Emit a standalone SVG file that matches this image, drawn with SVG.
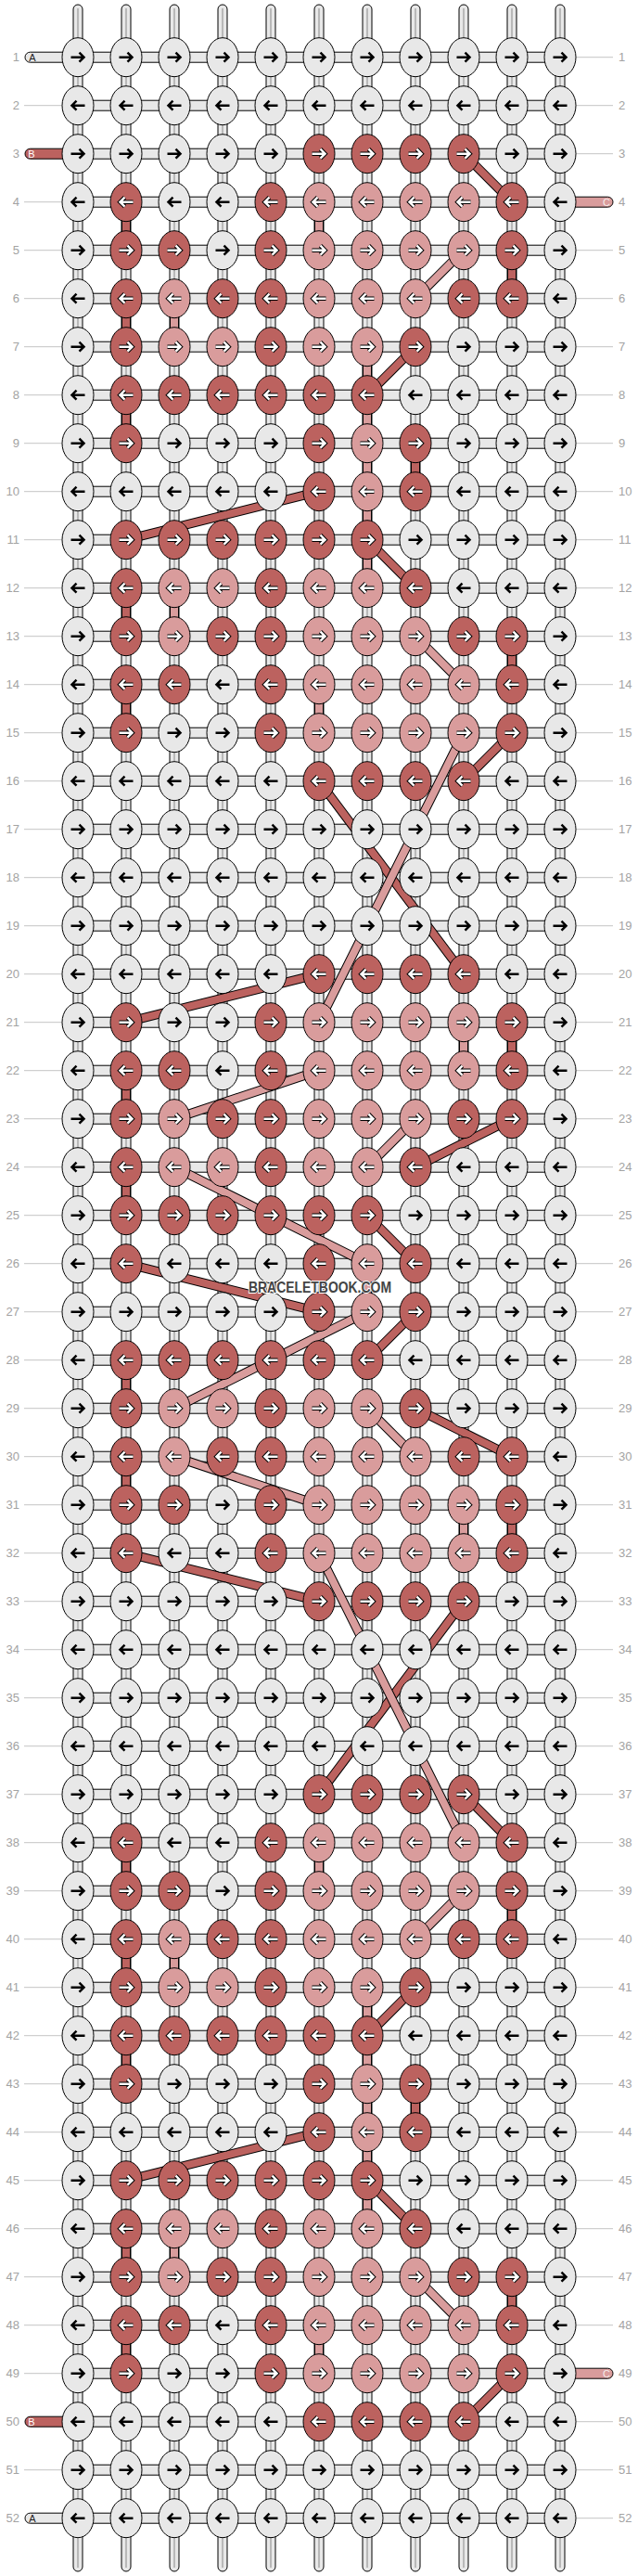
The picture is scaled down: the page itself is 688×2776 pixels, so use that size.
<svg xmlns="http://www.w3.org/2000/svg" xmlns:xlink="http://www.w3.org/1999/xlink" width="688" height="2776" viewBox="0 0 688 2776">
<style>
.vs{fill:#e8e8e8;stroke:#000;stroke-width:1}
.vm{stroke:#888;stroke-width:1}
.hs{fill:#e8e8e8;stroke:#000;stroke-width:1}
.tk{stroke:#c4c4c4;stroke-width:1}
.num{font-family:"Liberation Sans",Arial,sans-serif;font-size:13px;fill:#a3a3a3}
.lt{font-family:"Liberation Sans",Arial,sans-serif;font-size:11px;text-anchor:middle}
.ol{fill:none;stroke:#000;stroke-width:10}
.cr{fill:none;stroke:#bc625f;stroke-width:8}
.cp{fill:none;stroke:#d99c9c;stroke-width:8}
.wm{font-family:"Liberation Sans",Arial,sans-serif;font-weight:bold;font-size:17px;fill:#444;stroke:#fff;stroke-width:2;paint-order:stroke;text-anchor:middle}
</style>
<defs>
<g id="st"><rect class="vs" x="-5" y="5" width="10" height="2766" rx="5"/><line class="vm" x1="0" y1="9" x2="0" y2="2767"/></g>
<rect id="hc" class="hs" x="84" y="-5.5" width="520" height="11"/>
<path id="ar" d="M-7.5,0H6M1.5,-5L6.5,0L1.5,5" fill="none" stroke-linejoin="miter"/>
<path id="al" d="M7.5,0H-6M-1.5,-5L-6.5,0L-1.5,5" fill="none" stroke-linejoin="miter"/>
<g id="wR"><ellipse rx="17" ry="21" fill="#e8e8e8" stroke="#000"/><use href="#ar" stroke="#000" stroke-width="2.5"/></g>
<g id="wL"><ellipse rx="17" ry="21" fill="#e8e8e8" stroke="#000"/><use href="#al" stroke="#000" stroke-width="2.5"/></g>
<g id="rR"><ellipse rx="17" ry="21" fill="#bc625f" stroke="#000"/><use href="#ar" stroke="#000" stroke-width="4.5"/><use href="#ar" stroke="#fff" stroke-width="2.5"/></g>
<g id="rL"><ellipse rx="17" ry="21" fill="#bc625f" stroke="#000"/><use href="#al" stroke="#000" stroke-width="4.5"/><use href="#al" stroke="#fff" stroke-width="2.5"/></g>
<g id="pR"><ellipse rx="17" ry="21" fill="#d99c9c" stroke="#000"/><use href="#ar" stroke="#000" stroke-width="4.5"/><use href="#ar" stroke="#fff" stroke-width="2.5"/></g>
<g id="pL"><ellipse rx="17" ry="21" fill="#d99c9c" stroke="#000"/><use href="#al" stroke="#000" stroke-width="4.5"/><use href="#al" stroke="#fff" stroke-width="2.5"/></g>
</defs>
<rect width="688" height="2776" fill="#fff"/>
<g id="strands">
<use href="#st" x="84"/><use href="#st" x="136"/><use href="#st" x="188"/><use href="#st" x="240"/><use href="#st" x="292"/><use href="#st" x="344"/><use href="#st" x="396"/><use href="#st" x="448"/><use href="#st" x="500"/><use href="#st" x="552"/><use href="#st" x="604"/>
</g>
<g id="rowlinks">
<use href="#hc" y="61.7"/><use href="#hc" y="113.7"/><use href="#hc" y="165.7"/><use href="#hc" y="217.7"/><use href="#hc" y="269.7"/><use href="#hc" y="321.7"/><use href="#hc" y="373.7"/><use href="#hc" y="425.7"/><use href="#hc" y="477.7"/><use href="#hc" y="529.7"/><use href="#hc" y="581.7"/><use href="#hc" y="633.7"/><use href="#hc" y="685.7"/><use href="#hc" y="737.7"/><use href="#hc" y="789.7"/><use href="#hc" y="841.7"/><use href="#hc" y="893.7"/><use href="#hc" y="945.7"/><use href="#hc" y="997.7"/><use href="#hc" y="1049.7"/><use href="#hc" y="1101.7"/><use href="#hc" y="1153.7"/><use href="#hc" y="1205.7"/><use href="#hc" y="1257.7"/><use href="#hc" y="1309.7"/><use href="#hc" y="1361.7"/><use href="#hc" y="1413.7"/><use href="#hc" y="1465.7"/><use href="#hc" y="1517.7"/><use href="#hc" y="1569.7"/><use href="#hc" y="1621.7"/><use href="#hc" y="1673.7"/><use href="#hc" y="1725.7"/><use href="#hc" y="1777.7"/><use href="#hc" y="1829.7"/><use href="#hc" y="1881.7"/><use href="#hc" y="1933.7"/><use href="#hc" y="1985.7"/><use href="#hc" y="2037.7"/><use href="#hc" y="2089.7"/><use href="#hc" y="2141.7"/><use href="#hc" y="2193.7"/><use href="#hc" y="2245.7"/><use href="#hc" y="2297.7"/><use href="#hc" y="2349.7"/><use href="#hc" y="2401.7"/><use href="#hc" y="2453.7"/><use href="#hc" y="2505.7"/><use href="#hc" y="2557.7"/><use href="#hc" y="2609.7"/><use href="#hc" y="2661.7"/><use href="#hc" y="2713.7"/>
</g>
<g id="ends">
<rect x="27" y="56.2" width="50" height="11" rx="5.5" fill="#e8e8e8" stroke="#000"/><text class="lt" x="35" y="65.7" fill="#222">A</text>
<rect x="27" y="160.2" width="50" height="11" rx="5.5" fill="#bc625f" stroke="#000"/><text class="lt" x="34" y="169.7" fill="#fff">B</text>
<rect x="27" y="2604.2" width="50" height="11" rx="5.5" fill="#bc625f" stroke="#000"/><text class="lt" x="34" y="2613.7" fill="#fff">B</text>
<rect x="27" y="2708.2" width="50" height="11" rx="5.5" fill="#e8e8e8" stroke="#000"/><text class="lt" x="35" y="2717.7" fill="#222">A</text>
<rect x="611" y="212.2" width="50" height="11" rx="5.5" fill="#d99c9c" stroke="#000"/><text class="lt" x="654" y="221.7" fill="#f6ecec">C</text>
<rect x="611" y="2552.2" width="50" height="11" rx="5.5" fill="#d99c9c" stroke="#000"/><text class="lt" x="654" y="2561.7" fill="#f6ecec">C</text>
<path class="tk" d="M26 113.7H67M26 217.7H67M26 269.7H67M26 321.7H67M26 373.7H67M26 425.7H67M26 477.7H67M26 529.7H67M26 581.7H67M26 633.7H67M26 685.7H67M26 737.7H67M26 789.7H67M26 841.7H67M26 893.7H67M26 945.7H67M26 997.7H67M26 1049.7H67M26 1101.7H67M26 1153.7H67M26 1205.7H67M26 1257.7H67M26 1309.7H67M26 1361.7H67M26 1413.7H67M26 1465.7H67M26 1517.7H67M26 1569.7H67M26 1621.7H67M26 1673.7H67M26 1725.7H67M26 1777.7H67M26 1829.7H67M26 1881.7H67M26 1933.7H67M26 1985.7H67M26 2037.7H67M26 2089.7H67M26 2141.7H67M26 2193.7H67M26 2245.7H67M26 2297.7H67M26 2349.7H67M26 2401.7H67M26 2453.7H67M26 2505.7H67M26 2557.7H67M26 2661.7H67"/>
<path class="tk" d="M621 61.7H661M621 113.7H661M621 165.7H661M621 269.7H661M621 321.7H661M621 373.7H661M621 425.7H661M621 477.7H661M621 529.7H661M621 581.7H661M621 633.7H661M621 685.7H661M621 737.7H661M621 789.7H661M621 841.7H661M621 893.7H661M621 945.7H661M621 997.7H661M621 1049.7H661M621 1101.7H661M621 1153.7H661M621 1205.7H661M621 1257.7H661M621 1309.7H661M621 1361.7H661M621 1413.7H661M621 1465.7H661M621 1517.7H661M621 1569.7H661M621 1621.7H661M621 1673.7H661M621 1725.7H661M621 1777.7H661M621 1829.7H661M621 1881.7H661M621 1933.7H661M621 1985.7H661M621 2037.7H661M621 2089.7H661M621 2141.7H661M621 2193.7H661M621 2245.7H661M621 2297.7H661M621 2349.7H661M621 2401.7H661M621 2453.7H661M621 2505.7H661M621 2609.7H661M621 2661.7H661M621 2713.7H661"/>
</g>
<g id="connectors">
<path class="ol" d="M500 165.7L552 217.7M136 217.7V269.7M552 269.7V321.7M136 321.7V373.7M448 373.7L396 425.7M136 425.7V477.7M448 477.7V529.7M344 529.7L136 581.7M396 581.7L448 633.7M136 633.7V685.7M552 685.7V737.7M136 737.7V789.7M552 789.7L500 841.7M344 841.7L500 1049.7M344 1049.7L136 1101.7M552 1101.7V1153.7M136 1153.7V1205.7M552 1205.7L448 1257.7M136 1257.7V1309.7M396 1309.7L448 1361.7M136 1361.7L344 1413.7M448 1413.7L396 1465.7M136 1465.7V1517.7M448 1517.7L552 1569.7M136 1569.7V1621.7M552 1621.7V1673.7M136 1673.7L344 1725.7M500 1725.7L344 1933.7M500 1933.7L552 1985.7M136 1985.7V2037.7M552 2037.7V2089.7M136 2089.7V2141.7M448 2141.7L396 2193.7M136 2193.7V2245.7M448 2245.7V2297.7M344 2297.7L136 2349.7M396 2349.7L448 2401.7M136 2401.7V2453.7M552 2453.7V2505.7M136 2505.7V2557.7M552 2557.7L500 2609.7"/>
<path class="cr" d="M500 165.7L552 217.7M136 217.7V269.7M552 269.7V321.7M136 321.7V373.7M448 373.7L396 425.7M136 425.7V477.7M448 477.7V529.7M344 529.7L136 581.7M396 581.7L448 633.7M136 633.7V685.7M552 685.7V737.7M136 737.7V789.7M552 789.7L500 841.7M344 841.7L500 1049.7M344 1049.7L136 1101.7M552 1101.7V1153.7M136 1153.7V1205.7M552 1205.7L448 1257.7M136 1257.7V1309.7M396 1309.7L448 1361.7M136 1361.7L344 1413.7M448 1413.7L396 1465.7M136 1465.7V1517.7M448 1517.7L552 1569.7M136 1569.7V1621.7M552 1621.7V1673.7M136 1673.7L344 1725.7M500 1725.7L344 1933.7M500 1933.7L552 1985.7M136 1985.7V2037.7M552 2037.7V2089.7M136 2089.7V2141.7M448 2141.7L396 2193.7M136 2193.7V2245.7M448 2245.7V2297.7M344 2297.7L136 2349.7M396 2349.7L448 2401.7M136 2401.7V2453.7M552 2453.7V2505.7M136 2505.7V2557.7M552 2557.7L500 2609.7"/>
<path class="ol" d="M344 217.7V269.7M500 269.7L448 321.7M188 321.7V373.7M396 373.7V633.7M188 633.7V685.7M448 685.7L500 737.7M344 737.7V789.7M500 789.7L344 1101.7M500 1101.7V1153.7M344 1153.7L188 1205.7M448 1205.7L396 1257.7M188 1257.7L396 1361.7M396 1361.7V1413.7M396 1413.7L188 1517.7M396 1517.7L448 1569.7M188 1569.7L344 1621.7M500 1621.7V1673.7M344 1673.7L500 1985.7M344 1985.7V2037.7M500 2037.7L448 2089.7M188 2089.7V2141.7M396 2141.7V2401.7M188 2401.7V2453.7M448 2453.7L500 2505.7M344 2505.7V2557.7"/>
<path class="cp" d="M344 217.7V269.7M500 269.7L448 321.7M188 321.7V373.7M396 373.7V633.7M188 633.7V685.7M448 685.7L500 737.7M344 737.7V789.7M500 789.7L344 1101.7M500 1101.7V1153.7M344 1153.7L188 1205.7M448 1205.7L396 1257.7M188 1257.7L396 1361.7M396 1361.7V1413.7M396 1413.7L188 1517.7M396 1517.7L448 1569.7M188 1569.7L344 1621.7M500 1621.7V1673.7M344 1673.7L500 1985.7M344 1985.7V2037.7M500 2037.7L448 2089.7M188 2089.7V2141.7M396 2141.7V2401.7M188 2401.7V2453.7M448 2453.7L500 2505.7M344 2505.7V2557.7"/>
</g>
<g id="knots">
<g id="row1" transform="translate(0,61.7)"><g id="k1-1"><use href="#wR" x="84"/></g><g id="k1-2"><use href="#wR" x="136"/></g><g id="k1-3"><use href="#wR" x="188"/></g><g id="k1-4"><use href="#wR" x="240"/></g><g id="k1-5"><use href="#wR" x="292"/></g><g id="k1-6"><use href="#wR" x="344"/></g><g id="k1-7"><use href="#wR" x="396"/></g><g id="k1-8"><use href="#wR" x="448"/></g><g id="k1-9"><use href="#wR" x="500"/></g><g id="k1-10"><use href="#wR" x="552"/></g><g id="k1-11"><use href="#wR" x="604"/></g></g>
<g id="row2" transform="translate(0,113.7)"><g id="k2-1"><use href="#wL" x="84"/></g><g id="k2-2"><use href="#wL" x="136"/></g><g id="k2-3"><use href="#wL" x="188"/></g><g id="k2-4"><use href="#wL" x="240"/></g><g id="k2-5"><use href="#wL" x="292"/></g><g id="k2-6"><use href="#wL" x="344"/></g><g id="k2-7"><use href="#wL" x="396"/></g><g id="k2-8"><use href="#wL" x="448"/></g><g id="k2-9"><use href="#wL" x="500"/></g><g id="k2-10"><use href="#wL" x="552"/></g><g id="k2-11"><use href="#wL" x="604"/></g></g>
<g id="row3" transform="translate(0,165.7)"><g id="k3-1"><use href="#wR" x="84"/></g><g id="k3-2"><use href="#wR" x="136"/></g><g id="k3-3"><use href="#wR" x="188"/></g><g id="k3-4"><use href="#wR" x="240"/></g><g id="k3-5"><use href="#wR" x="292"/></g><g id="k3-6"><use href="#rR" x="344"/></g><g id="k3-7"><use href="#rR" x="396"/></g><g id="k3-8"><use href="#rR" x="448"/></g><g id="k3-9"><use href="#rR" x="500"/></g><g id="k3-10"><use href="#wR" x="552"/></g><g id="k3-11"><use href="#wR" x="604"/></g></g>
<g id="row4" transform="translate(0,217.7)"><g id="k4-1"><use href="#wL" x="84"/></g><g id="k4-2"><use href="#rL" x="136"/></g><g id="k4-3"><use href="#wL" x="188"/></g><g id="k4-4"><use href="#wL" x="240"/></g><g id="k4-5"><use href="#rL" x="292"/></g><g id="k4-6"><use href="#pL" x="344"/></g><g id="k4-7"><use href="#pL" x="396"/></g><g id="k4-8"><use href="#pL" x="448"/></g><g id="k4-9"><use href="#pL" x="500"/></g><g id="k4-10"><use href="#rL" x="552"/></g><g id="k4-11"><use href="#wL" x="604"/></g></g>
<g id="row5" transform="translate(0,269.7)"><g id="k5-1"><use href="#wR" x="84"/></g><g id="k5-2"><use href="#rR" x="136"/></g><g id="k5-3"><use href="#rR" x="188"/></g><g id="k5-4"><use href="#wR" x="240"/></g><g id="k5-5"><use href="#rR" x="292"/></g><g id="k5-6"><use href="#pR" x="344"/></g><g id="k5-7"><use href="#pR" x="396"/></g><g id="k5-8"><use href="#pR" x="448"/></g><g id="k5-9"><use href="#pR" x="500"/></g><g id="k5-10"><use href="#rR" x="552"/></g><g id="k5-11"><use href="#wR" x="604"/></g></g>
<g id="row6" transform="translate(0,321.7)"><g id="k6-1"><use href="#wL" x="84"/></g><g id="k6-2"><use href="#rL" x="136"/></g><g id="k6-3"><use href="#pL" x="188"/></g><g id="k6-4"><use href="#rL" x="240"/></g><g id="k6-5"><use href="#rL" x="292"/></g><g id="k6-6"><use href="#pL" x="344"/></g><g id="k6-7"><use href="#pL" x="396"/></g><g id="k6-8"><use href="#pL" x="448"/></g><g id="k6-9"><use href="#rL" x="500"/></g><g id="k6-10"><use href="#rL" x="552"/></g><g id="k6-11"><use href="#wL" x="604"/></g></g>
<g id="row7" transform="translate(0,373.7)"><g id="k7-1"><use href="#wR" x="84"/></g><g id="k7-2"><use href="#rR" x="136"/></g><g id="k7-3"><use href="#pR" x="188"/></g><g id="k7-4"><use href="#pR" x="240"/></g><g id="k7-5"><use href="#rR" x="292"/></g><g id="k7-6"><use href="#pR" x="344"/></g><g id="k7-7"><use href="#pR" x="396"/></g><g id="k7-8"><use href="#rR" x="448"/></g><g id="k7-9"><use href="#wR" x="500"/></g><g id="k7-10"><use href="#wR" x="552"/></g><g id="k7-11"><use href="#wR" x="604"/></g></g>
<g id="row8" transform="translate(0,425.7)"><g id="k8-1"><use href="#wL" x="84"/></g><g id="k8-2"><use href="#rL" x="136"/></g><g id="k8-3"><use href="#rL" x="188"/></g><g id="k8-4"><use href="#rL" x="240"/></g><g id="k8-5"><use href="#rL" x="292"/></g><g id="k8-6"><use href="#rL" x="344"/></g><g id="k8-7"><use href="#rL" x="396"/></g><g id="k8-8"><use href="#wL" x="448"/></g><g id="k8-9"><use href="#wL" x="500"/></g><g id="k8-10"><use href="#wL" x="552"/></g><g id="k8-11"><use href="#wL" x="604"/></g></g>
<g id="row9" transform="translate(0,477.7)"><g id="k9-1"><use href="#wR" x="84"/></g><g id="k9-2"><use href="#rR" x="136"/></g><g id="k9-3"><use href="#wR" x="188"/></g><g id="k9-4"><use href="#wR" x="240"/></g><g id="k9-5"><use href="#wR" x="292"/></g><g id="k9-6"><use href="#rR" x="344"/></g><g id="k9-7"><use href="#pR" x="396"/></g><g id="k9-8"><use href="#rR" x="448"/></g><g id="k9-9"><use href="#wR" x="500"/></g><g id="k9-10"><use href="#wR" x="552"/></g><g id="k9-11"><use href="#wR" x="604"/></g></g>
<g id="row10" transform="translate(0,529.7)"><g id="k10-1"><use href="#wL" x="84"/></g><g id="k10-2"><use href="#wL" x="136"/></g><g id="k10-3"><use href="#wL" x="188"/></g><g id="k10-4"><use href="#wL" x="240"/></g><g id="k10-5"><use href="#wL" x="292"/></g><g id="k10-6"><use href="#rL" x="344"/></g><g id="k10-7"><use href="#pL" x="396"/></g><g id="k10-8"><use href="#rL" x="448"/></g><g id="k10-9"><use href="#wL" x="500"/></g><g id="k10-10"><use href="#wL" x="552"/></g><g id="k10-11"><use href="#wL" x="604"/></g></g>
<g id="row11" transform="translate(0,581.7)"><g id="k11-1"><use href="#wR" x="84"/></g><g id="k11-2"><use href="#rR" x="136"/></g><g id="k11-3"><use href="#rR" x="188"/></g><g id="k11-4"><use href="#rR" x="240"/></g><g id="k11-5"><use href="#rR" x="292"/></g><g id="k11-6"><use href="#rR" x="344"/></g><g id="k11-7"><use href="#rR" x="396"/></g><g id="k11-8"><use href="#wR" x="448"/></g><g id="k11-9"><use href="#wR" x="500"/></g><g id="k11-10"><use href="#wR" x="552"/></g><g id="k11-11"><use href="#wR" x="604"/></g></g>
<g id="row12" transform="translate(0,633.7)"><g id="k12-1"><use href="#wL" x="84"/></g><g id="k12-2"><use href="#rL" x="136"/></g><g id="k12-3"><use href="#pL" x="188"/></g><g id="k12-4"><use href="#pL" x="240"/></g><g id="k12-5"><use href="#rL" x="292"/></g><g id="k12-6"><use href="#pL" x="344"/></g><g id="k12-7"><use href="#pL" x="396"/></g><g id="k12-8"><use href="#rL" x="448"/></g><g id="k12-9"><use href="#wL" x="500"/></g><g id="k12-10"><use href="#wL" x="552"/></g><g id="k12-11"><use href="#wL" x="604"/></g></g>
<g id="row13" transform="translate(0,685.7)"><g id="k13-1"><use href="#wR" x="84"/></g><g id="k13-2"><use href="#rR" x="136"/></g><g id="k13-3"><use href="#pR" x="188"/></g><g id="k13-4"><use href="#rR" x="240"/></g><g id="k13-5"><use href="#rR" x="292"/></g><g id="k13-6"><use href="#pR" x="344"/></g><g id="k13-7"><use href="#pR" x="396"/></g><g id="k13-8"><use href="#pR" x="448"/></g><g id="k13-9"><use href="#rR" x="500"/></g><g id="k13-10"><use href="#rR" x="552"/></g><g id="k13-11"><use href="#wR" x="604"/></g></g>
<g id="row14" transform="translate(0,737.7)"><g id="k14-1"><use href="#wL" x="84"/></g><g id="k14-2"><use href="#rL" x="136"/></g><g id="k14-3"><use href="#rL" x="188"/></g><g id="k14-4"><use href="#wL" x="240"/></g><g id="k14-5"><use href="#rL" x="292"/></g><g id="k14-6"><use href="#pL" x="344"/></g><g id="k14-7"><use href="#pL" x="396"/></g><g id="k14-8"><use href="#pL" x="448"/></g><g id="k14-9"><use href="#pL" x="500"/></g><g id="k14-10"><use href="#rL" x="552"/></g><g id="k14-11"><use href="#wL" x="604"/></g></g>
<g id="row15" transform="translate(0,789.7)"><g id="k15-1"><use href="#wR" x="84"/></g><g id="k15-2"><use href="#rR" x="136"/></g><g id="k15-3"><use href="#wR" x="188"/></g><g id="k15-4"><use href="#wR" x="240"/></g><g id="k15-5"><use href="#rR" x="292"/></g><g id="k15-6"><use href="#pR" x="344"/></g><g id="k15-7"><use href="#pR" x="396"/></g><g id="k15-8"><use href="#pR" x="448"/></g><g id="k15-9"><use href="#pR" x="500"/></g><g id="k15-10"><use href="#rR" x="552"/></g><g id="k15-11"><use href="#wR" x="604"/></g></g>
<g id="row16" transform="translate(0,841.7)"><g id="k16-1"><use href="#wL" x="84"/></g><g id="k16-2"><use href="#wL" x="136"/></g><g id="k16-3"><use href="#wL" x="188"/></g><g id="k16-4"><use href="#wL" x="240"/></g><g id="k16-5"><use href="#wL" x="292"/></g><g id="k16-6"><use href="#rL" x="344"/></g><g id="k16-7"><use href="#rL" x="396"/></g><g id="k16-8"><use href="#rL" x="448"/></g><g id="k16-9"><use href="#rL" x="500"/></g><g id="k16-10"><use href="#wL" x="552"/></g><g id="k16-11"><use href="#wL" x="604"/></g></g>
<g id="row17" transform="translate(0,893.7)"><g id="k17-1"><use href="#wR" x="84"/></g><g id="k17-2"><use href="#wR" x="136"/></g><g id="k17-3"><use href="#wR" x="188"/></g><g id="k17-4"><use href="#wR" x="240"/></g><g id="k17-5"><use href="#wR" x="292"/></g><g id="k17-6"><use href="#wR" x="344"/></g><g id="k17-7"><use href="#wR" x="396"/></g><g id="k17-8"><use href="#wR" x="448"/></g><g id="k17-9"><use href="#wR" x="500"/></g><g id="k17-10"><use href="#wR" x="552"/></g><g id="k17-11"><use href="#wR" x="604"/></g></g>
<g id="row18" transform="translate(0,945.7)"><g id="k18-1"><use href="#wL" x="84"/></g><g id="k18-2"><use href="#wL" x="136"/></g><g id="k18-3"><use href="#wL" x="188"/></g><g id="k18-4"><use href="#wL" x="240"/></g><g id="k18-5"><use href="#wL" x="292"/></g><g id="k18-6"><use href="#wL" x="344"/></g><g id="k18-7"><use href="#wL" x="396"/></g><g id="k18-8"><use href="#wL" x="448"/></g><g id="k18-9"><use href="#wL" x="500"/></g><g id="k18-10"><use href="#wL" x="552"/></g><g id="k18-11"><use href="#wL" x="604"/></g></g>
<g id="row19" transform="translate(0,997.7)"><g id="k19-1"><use href="#wR" x="84"/></g><g id="k19-2"><use href="#wR" x="136"/></g><g id="k19-3"><use href="#wR" x="188"/></g><g id="k19-4"><use href="#wR" x="240"/></g><g id="k19-5"><use href="#wR" x="292"/></g><g id="k19-6"><use href="#wR" x="344"/></g><g id="k19-7"><use href="#wR" x="396"/></g><g id="k19-8"><use href="#wR" x="448"/></g><g id="k19-9"><use href="#wR" x="500"/></g><g id="k19-10"><use href="#wR" x="552"/></g><g id="k19-11"><use href="#wR" x="604"/></g></g>
<g id="row20" transform="translate(0,1049.7)"><g id="k20-1"><use href="#wL" x="84"/></g><g id="k20-2"><use href="#wL" x="136"/></g><g id="k20-3"><use href="#wL" x="188"/></g><g id="k20-4"><use href="#wL" x="240"/></g><g id="k20-5"><use href="#wL" x="292"/></g><g id="k20-6"><use href="#rL" x="344"/></g><g id="k20-7"><use href="#rL" x="396"/></g><g id="k20-8"><use href="#rL" x="448"/></g><g id="k20-9"><use href="#rL" x="500"/></g><g id="k20-10"><use href="#wL" x="552"/></g><g id="k20-11"><use href="#wL" x="604"/></g></g>
<g id="row21" transform="translate(0,1101.7)"><g id="k21-1"><use href="#wR" x="84"/></g><g id="k21-2"><use href="#rR" x="136"/></g><g id="k21-3"><use href="#wR" x="188"/></g><g id="k21-4"><use href="#wR" x="240"/></g><g id="k21-5"><use href="#rR" x="292"/></g><g id="k21-6"><use href="#pR" x="344"/></g><g id="k21-7"><use href="#pR" x="396"/></g><g id="k21-8"><use href="#pR" x="448"/></g><g id="k21-9"><use href="#pR" x="500"/></g><g id="k21-10"><use href="#rR" x="552"/></g><g id="k21-11"><use href="#wR" x="604"/></g></g>
<g id="row22" transform="translate(0,1153.7)"><g id="k22-1"><use href="#wL" x="84"/></g><g id="k22-2"><use href="#rL" x="136"/></g><g id="k22-3"><use href="#rL" x="188"/></g><g id="k22-4"><use href="#wL" x="240"/></g><g id="k22-5"><use href="#rL" x="292"/></g><g id="k22-6"><use href="#pL" x="344"/></g><g id="k22-7"><use href="#pL" x="396"/></g><g id="k22-8"><use href="#pL" x="448"/></g><g id="k22-9"><use href="#pL" x="500"/></g><g id="k22-10"><use href="#rL" x="552"/></g><g id="k22-11"><use href="#wL" x="604"/></g></g>
<g id="row23" transform="translate(0,1205.7)"><g id="k23-1"><use href="#wR" x="84"/></g><g id="k23-2"><use href="#rR" x="136"/></g><g id="k23-3"><use href="#pR" x="188"/></g><g id="k23-4"><use href="#rR" x="240"/></g><g id="k23-5"><use href="#rR" x="292"/></g><g id="k23-6"><use href="#pR" x="344"/></g><g id="k23-7"><use href="#pR" x="396"/></g><g id="k23-8"><use href="#pR" x="448"/></g><g id="k23-9"><use href="#rR" x="500"/></g><g id="k23-10"><use href="#rR" x="552"/></g><g id="k23-11"><use href="#wR" x="604"/></g></g>
<g id="row24" transform="translate(0,1257.7)"><g id="k24-1"><use href="#wL" x="84"/></g><g id="k24-2"><use href="#rL" x="136"/></g><g id="k24-3"><use href="#pL" x="188"/></g><g id="k24-4"><use href="#pL" x="240"/></g><g id="k24-5"><use href="#rL" x="292"/></g><g id="k24-6"><use href="#pL" x="344"/></g><g id="k24-7"><use href="#pL" x="396"/></g><g id="k24-8"><use href="#rL" x="448"/></g><g id="k24-9"><use href="#wL" x="500"/></g><g id="k24-10"><use href="#wL" x="552"/></g><g id="k24-11"><use href="#wL" x="604"/></g></g>
<g id="row25" transform="translate(0,1309.7)"><g id="k25-1"><use href="#wR" x="84"/></g><g id="k25-2"><use href="#rR" x="136"/></g><g id="k25-3"><use href="#rR" x="188"/></g><g id="k25-4"><use href="#rR" x="240"/></g><g id="k25-5"><use href="#rR" x="292"/></g><g id="k25-6"><use href="#rR" x="344"/></g><g id="k25-7"><use href="#rR" x="396"/></g><g id="k25-8"><use href="#wR" x="448"/></g><g id="k25-9"><use href="#wR" x="500"/></g><g id="k25-10"><use href="#wR" x="552"/></g><g id="k25-11"><use href="#wR" x="604"/></g></g>
<g id="row26" transform="translate(0,1361.7)"><g id="k26-1"><use href="#wL" x="84"/></g><g id="k26-2"><use href="#rL" x="136"/></g><g id="k26-3"><use href="#wL" x="188"/></g><g id="k26-4"><use href="#wL" x="240"/></g><g id="k26-5"><use href="#wL" x="292"/></g><g id="k26-6"><use href="#rL" x="344"/></g><g id="k26-7"><use href="#pL" x="396"/></g><g id="k26-8"><use href="#rL" x="448"/></g><g id="k26-9"><use href="#wL" x="500"/></g><g id="k26-10"><use href="#wL" x="552"/></g><g id="k26-11"><use href="#wL" x="604"/></g></g>
<g id="row27" transform="translate(0,1413.7)"><g id="k27-1"><use href="#wR" x="84"/></g><g id="k27-2"><use href="#wR" x="136"/></g><g id="k27-3"><use href="#wR" x="188"/></g><g id="k27-4"><use href="#wR" x="240"/></g><g id="k27-5"><use href="#wR" x="292"/></g><g id="k27-6"><use href="#rR" x="344"/></g><g id="k27-7"><use href="#pR" x="396"/></g><g id="k27-8"><use href="#rR" x="448"/></g><g id="k27-9"><use href="#wR" x="500"/></g><g id="k27-10"><use href="#wR" x="552"/></g><g id="k27-11"><use href="#wR" x="604"/></g></g>
<g id="row28" transform="translate(0,1465.7)"><g id="k28-1"><use href="#wL" x="84"/></g><g id="k28-2"><use href="#rL" x="136"/></g><g id="k28-3"><use href="#rL" x="188"/></g><g id="k28-4"><use href="#rL" x="240"/></g><g id="k28-5"><use href="#rL" x="292"/></g><g id="k28-6"><use href="#rL" x="344"/></g><g id="k28-7"><use href="#rL" x="396"/></g><g id="k28-8"><use href="#wL" x="448"/></g><g id="k28-9"><use href="#wL" x="500"/></g><g id="k28-10"><use href="#wL" x="552"/></g><g id="k28-11"><use href="#wL" x="604"/></g></g>
<g id="row29" transform="translate(0,1517.7)"><g id="k29-1"><use href="#wR" x="84"/></g><g id="k29-2"><use href="#rR" x="136"/></g><g id="k29-3"><use href="#pR" x="188"/></g><g id="k29-4"><use href="#pR" x="240"/></g><g id="k29-5"><use href="#rR" x="292"/></g><g id="k29-6"><use href="#pR" x="344"/></g><g id="k29-7"><use href="#pR" x="396"/></g><g id="k29-8"><use href="#rR" x="448"/></g><g id="k29-9"><use href="#wR" x="500"/></g><g id="k29-10"><use href="#wR" x="552"/></g><g id="k29-11"><use href="#wR" x="604"/></g></g>
<g id="row30" transform="translate(0,1569.7)"><g id="k30-1"><use href="#wL" x="84"/></g><g id="k30-2"><use href="#rL" x="136"/></g><g id="k30-3"><use href="#pL" x="188"/></g><g id="k30-4"><use href="#rL" x="240"/></g><g id="k30-5"><use href="#rL" x="292"/></g><g id="k30-6"><use href="#pL" x="344"/></g><g id="k30-7"><use href="#pL" x="396"/></g><g id="k30-8"><use href="#pL" x="448"/></g><g id="k30-9"><use href="#rL" x="500"/></g><g id="k30-10"><use href="#rL" x="552"/></g><g id="k30-11"><use href="#wL" x="604"/></g></g>
<g id="row31" transform="translate(0,1621.7)"><g id="k31-1"><use href="#wR" x="84"/></g><g id="k31-2"><use href="#rR" x="136"/></g><g id="k31-3"><use href="#rR" x="188"/></g><g id="k31-4"><use href="#wR" x="240"/></g><g id="k31-5"><use href="#rR" x="292"/></g><g id="k31-6"><use href="#pR" x="344"/></g><g id="k31-7"><use href="#pR" x="396"/></g><g id="k31-8"><use href="#pR" x="448"/></g><g id="k31-9"><use href="#pR" x="500"/></g><g id="k31-10"><use href="#rR" x="552"/></g><g id="k31-11"><use href="#wR" x="604"/></g></g>
<g id="row32" transform="translate(0,1673.7)"><g id="k32-1"><use href="#wL" x="84"/></g><g id="k32-2"><use href="#rL" x="136"/></g><g id="k32-3"><use href="#wL" x="188"/></g><g id="k32-4"><use href="#wL" x="240"/></g><g id="k32-5"><use href="#rL" x="292"/></g><g id="k32-6"><use href="#pL" x="344"/></g><g id="k32-7"><use href="#pL" x="396"/></g><g id="k32-8"><use href="#pL" x="448"/></g><g id="k32-9"><use href="#pL" x="500"/></g><g id="k32-10"><use href="#rL" x="552"/></g><g id="k32-11"><use href="#wL" x="604"/></g></g>
<g id="row33" transform="translate(0,1725.7)"><g id="k33-1"><use href="#wR" x="84"/></g><g id="k33-2"><use href="#wR" x="136"/></g><g id="k33-3"><use href="#wR" x="188"/></g><g id="k33-4"><use href="#wR" x="240"/></g><g id="k33-5"><use href="#wR" x="292"/></g><g id="k33-6"><use href="#rR" x="344"/></g><g id="k33-7"><use href="#rR" x="396"/></g><g id="k33-8"><use href="#rR" x="448"/></g><g id="k33-9"><use href="#rR" x="500"/></g><g id="k33-10"><use href="#wR" x="552"/></g><g id="k33-11"><use href="#wR" x="604"/></g></g>
<g id="row34" transform="translate(0,1777.7)"><g id="k34-1"><use href="#wL" x="84"/></g><g id="k34-2"><use href="#wL" x="136"/></g><g id="k34-3"><use href="#wL" x="188"/></g><g id="k34-4"><use href="#wL" x="240"/></g><g id="k34-5"><use href="#wL" x="292"/></g><g id="k34-6"><use href="#wL" x="344"/></g><g id="k34-7"><use href="#wL" x="396"/></g><g id="k34-8"><use href="#wL" x="448"/></g><g id="k34-9"><use href="#wL" x="500"/></g><g id="k34-10"><use href="#wL" x="552"/></g><g id="k34-11"><use href="#wL" x="604"/></g></g>
<g id="row35" transform="translate(0,1829.7)"><g id="k35-1"><use href="#wR" x="84"/></g><g id="k35-2"><use href="#wR" x="136"/></g><g id="k35-3"><use href="#wR" x="188"/></g><g id="k35-4"><use href="#wR" x="240"/></g><g id="k35-5"><use href="#wR" x="292"/></g><g id="k35-6"><use href="#wR" x="344"/></g><g id="k35-7"><use href="#wR" x="396"/></g><g id="k35-8"><use href="#wR" x="448"/></g><g id="k35-9"><use href="#wR" x="500"/></g><g id="k35-10"><use href="#wR" x="552"/></g><g id="k35-11"><use href="#wR" x="604"/></g></g>
<g id="row36" transform="translate(0,1881.7)"><g id="k36-1"><use href="#wL" x="84"/></g><g id="k36-2"><use href="#wL" x="136"/></g><g id="k36-3"><use href="#wL" x="188"/></g><g id="k36-4"><use href="#wL" x="240"/></g><g id="k36-5"><use href="#wL" x="292"/></g><g id="k36-6"><use href="#wL" x="344"/></g><g id="k36-7"><use href="#wL" x="396"/></g><g id="k36-8"><use href="#wL" x="448"/></g><g id="k36-9"><use href="#wL" x="500"/></g><g id="k36-10"><use href="#wL" x="552"/></g><g id="k36-11"><use href="#wL" x="604"/></g></g>
<g id="row37" transform="translate(0,1933.7)"><g id="k37-1"><use href="#wR" x="84"/></g><g id="k37-2"><use href="#wR" x="136"/></g><g id="k37-3"><use href="#wR" x="188"/></g><g id="k37-4"><use href="#wR" x="240"/></g><g id="k37-5"><use href="#wR" x="292"/></g><g id="k37-6"><use href="#rR" x="344"/></g><g id="k37-7"><use href="#rR" x="396"/></g><g id="k37-8"><use href="#rR" x="448"/></g><g id="k37-9"><use href="#rR" x="500"/></g><g id="k37-10"><use href="#wR" x="552"/></g><g id="k37-11"><use href="#wR" x="604"/></g></g>
<g id="row38" transform="translate(0,1985.7)"><g id="k38-1"><use href="#wL" x="84"/></g><g id="k38-2"><use href="#rL" x="136"/></g><g id="k38-3"><use href="#wL" x="188"/></g><g id="k38-4"><use href="#wL" x="240"/></g><g id="k38-5"><use href="#rL" x="292"/></g><g id="k38-6"><use href="#pL" x="344"/></g><g id="k38-7"><use href="#pL" x="396"/></g><g id="k38-8"><use href="#pL" x="448"/></g><g id="k38-9"><use href="#pL" x="500"/></g><g id="k38-10"><use href="#rL" x="552"/></g><g id="k38-11"><use href="#wL" x="604"/></g></g>
<g id="row39" transform="translate(0,2037.7)"><g id="k39-1"><use href="#wR" x="84"/></g><g id="k39-2"><use href="#rR" x="136"/></g><g id="k39-3"><use href="#rR" x="188"/></g><g id="k39-4"><use href="#wR" x="240"/></g><g id="k39-5"><use href="#rR" x="292"/></g><g id="k39-6"><use href="#pR" x="344"/></g><g id="k39-7"><use href="#pR" x="396"/></g><g id="k39-8"><use href="#pR" x="448"/></g><g id="k39-9"><use href="#pR" x="500"/></g><g id="k39-10"><use href="#rR" x="552"/></g><g id="k39-11"><use href="#wR" x="604"/></g></g>
<g id="row40" transform="translate(0,2089.7)"><g id="k40-1"><use href="#wL" x="84"/></g><g id="k40-2"><use href="#rL" x="136"/></g><g id="k40-3"><use href="#pL" x="188"/></g><g id="k40-4"><use href="#rL" x="240"/></g><g id="k40-5"><use href="#rL" x="292"/></g><g id="k40-6"><use href="#pL" x="344"/></g><g id="k40-7"><use href="#pL" x="396"/></g><g id="k40-8"><use href="#pL" x="448"/></g><g id="k40-9"><use href="#rL" x="500"/></g><g id="k40-10"><use href="#rL" x="552"/></g><g id="k40-11"><use href="#wL" x="604"/></g></g>
<g id="row41" transform="translate(0,2141.7)"><g id="k41-1"><use href="#wR" x="84"/></g><g id="k41-2"><use href="#rR" x="136"/></g><g id="k41-3"><use href="#pR" x="188"/></g><g id="k41-4"><use href="#pR" x="240"/></g><g id="k41-5"><use href="#rR" x="292"/></g><g id="k41-6"><use href="#pR" x="344"/></g><g id="k41-7"><use href="#pR" x="396"/></g><g id="k41-8"><use href="#rR" x="448"/></g><g id="k41-9"><use href="#wR" x="500"/></g><g id="k41-10"><use href="#wR" x="552"/></g><g id="k41-11"><use href="#wR" x="604"/></g></g>
<g id="row42" transform="translate(0,2193.7)"><g id="k42-1"><use href="#wL" x="84"/></g><g id="k42-2"><use href="#rL" x="136"/></g><g id="k42-3"><use href="#rL" x="188"/></g><g id="k42-4"><use href="#rL" x="240"/></g><g id="k42-5"><use href="#rL" x="292"/></g><g id="k42-6"><use href="#rL" x="344"/></g><g id="k42-7"><use href="#rL" x="396"/></g><g id="k42-8"><use href="#wL" x="448"/></g><g id="k42-9"><use href="#wL" x="500"/></g><g id="k42-10"><use href="#wL" x="552"/></g><g id="k42-11"><use href="#wL" x="604"/></g></g>
<g id="row43" transform="translate(0,2245.7)"><g id="k43-1"><use href="#wR" x="84"/></g><g id="k43-2"><use href="#rR" x="136"/></g><g id="k43-3"><use href="#wR" x="188"/></g><g id="k43-4"><use href="#wR" x="240"/></g><g id="k43-5"><use href="#wR" x="292"/></g><g id="k43-6"><use href="#rR" x="344"/></g><g id="k43-7"><use href="#pR" x="396"/></g><g id="k43-8"><use href="#rR" x="448"/></g><g id="k43-9"><use href="#wR" x="500"/></g><g id="k43-10"><use href="#wR" x="552"/></g><g id="k43-11"><use href="#wR" x="604"/></g></g>
<g id="row44" transform="translate(0,2297.7)"><g id="k44-1"><use href="#wL" x="84"/></g><g id="k44-2"><use href="#wL" x="136"/></g><g id="k44-3"><use href="#wL" x="188"/></g><g id="k44-4"><use href="#wL" x="240"/></g><g id="k44-5"><use href="#wL" x="292"/></g><g id="k44-6"><use href="#rL" x="344"/></g><g id="k44-7"><use href="#pL" x="396"/></g><g id="k44-8"><use href="#rL" x="448"/></g><g id="k44-9"><use href="#wL" x="500"/></g><g id="k44-10"><use href="#wL" x="552"/></g><g id="k44-11"><use href="#wL" x="604"/></g></g>
<g id="row45" transform="translate(0,2349.7)"><g id="k45-1"><use href="#wR" x="84"/></g><g id="k45-2"><use href="#rR" x="136"/></g><g id="k45-3"><use href="#rR" x="188"/></g><g id="k45-4"><use href="#rR" x="240"/></g><g id="k45-5"><use href="#rR" x="292"/></g><g id="k45-6"><use href="#rR" x="344"/></g><g id="k45-7"><use href="#rR" x="396"/></g><g id="k45-8"><use href="#wR" x="448"/></g><g id="k45-9"><use href="#wR" x="500"/></g><g id="k45-10"><use href="#wR" x="552"/></g><g id="k45-11"><use href="#wR" x="604"/></g></g>
<g id="row46" transform="translate(0,2401.7)"><g id="k46-1"><use href="#wL" x="84"/></g><g id="k46-2"><use href="#rL" x="136"/></g><g id="k46-3"><use href="#pL" x="188"/></g><g id="k46-4"><use href="#pL" x="240"/></g><g id="k46-5"><use href="#rL" x="292"/></g><g id="k46-6"><use href="#pL" x="344"/></g><g id="k46-7"><use href="#pL" x="396"/></g><g id="k46-8"><use href="#rL" x="448"/></g><g id="k46-9"><use href="#wL" x="500"/></g><g id="k46-10"><use href="#wL" x="552"/></g><g id="k46-11"><use href="#wL" x="604"/></g></g>
<g id="row47" transform="translate(0,2453.7)"><g id="k47-1"><use href="#wR" x="84"/></g><g id="k47-2"><use href="#rR" x="136"/></g><g id="k47-3"><use href="#pR" x="188"/></g><g id="k47-4"><use href="#rR" x="240"/></g><g id="k47-5"><use href="#rR" x="292"/></g><g id="k47-6"><use href="#pR" x="344"/></g><g id="k47-7"><use href="#pR" x="396"/></g><g id="k47-8"><use href="#pR" x="448"/></g><g id="k47-9"><use href="#rR" x="500"/></g><g id="k47-10"><use href="#rR" x="552"/></g><g id="k47-11"><use href="#wR" x="604"/></g></g>
<g id="row48" transform="translate(0,2505.7)"><g id="k48-1"><use href="#wL" x="84"/></g><g id="k48-2"><use href="#rL" x="136"/></g><g id="k48-3"><use href="#rL" x="188"/></g><g id="k48-4"><use href="#wL" x="240"/></g><g id="k48-5"><use href="#rL" x="292"/></g><g id="k48-6"><use href="#pL" x="344"/></g><g id="k48-7"><use href="#pL" x="396"/></g><g id="k48-8"><use href="#pL" x="448"/></g><g id="k48-9"><use href="#pL" x="500"/></g><g id="k48-10"><use href="#rL" x="552"/></g><g id="k48-11"><use href="#wL" x="604"/></g></g>
<g id="row49" transform="translate(0,2557.7)"><g id="k49-1"><use href="#wR" x="84"/></g><g id="k49-2"><use href="#rR" x="136"/></g><g id="k49-3"><use href="#wR" x="188"/></g><g id="k49-4"><use href="#wR" x="240"/></g><g id="k49-5"><use href="#rR" x="292"/></g><g id="k49-6"><use href="#pR" x="344"/></g><g id="k49-7"><use href="#pR" x="396"/></g><g id="k49-8"><use href="#pR" x="448"/></g><g id="k49-9"><use href="#pR" x="500"/></g><g id="k49-10"><use href="#rR" x="552"/></g><g id="k49-11"><use href="#wR" x="604"/></g></g>
<g id="row50" transform="translate(0,2609.7)"><g id="k50-1"><use href="#wL" x="84"/></g><g id="k50-2"><use href="#wL" x="136"/></g><g id="k50-3"><use href="#wL" x="188"/></g><g id="k50-4"><use href="#wL" x="240"/></g><g id="k50-5"><use href="#wL" x="292"/></g><g id="k50-6"><use href="#rL" x="344"/></g><g id="k50-7"><use href="#rL" x="396"/></g><g id="k50-8"><use href="#rL" x="448"/></g><g id="k50-9"><use href="#rL" x="500"/></g><g id="k50-10"><use href="#wL" x="552"/></g><g id="k50-11"><use href="#wL" x="604"/></g></g>
<g id="row51" transform="translate(0,2661.7)"><g id="k51-1"><use href="#wR" x="84"/></g><g id="k51-2"><use href="#wR" x="136"/></g><g id="k51-3"><use href="#wR" x="188"/></g><g id="k51-4"><use href="#wR" x="240"/></g><g id="k51-5"><use href="#wR" x="292"/></g><g id="k51-6"><use href="#wR" x="344"/></g><g id="k51-7"><use href="#wR" x="396"/></g><g id="k51-8"><use href="#wR" x="448"/></g><g id="k51-9"><use href="#wR" x="500"/></g><g id="k51-10"><use href="#wR" x="552"/></g><g id="k51-11"><use href="#wR" x="604"/></g></g>
<g id="row52" transform="translate(0,2713.7)"><g id="k52-1"><use href="#wL" x="84"/></g><g id="k52-2"><use href="#wL" x="136"/></g><g id="k52-3"><use href="#wL" x="188"/></g><g id="k52-4"><use href="#wL" x="240"/></g><g id="k52-5"><use href="#wL" x="292"/></g><g id="k52-6"><use href="#wL" x="344"/></g><g id="k52-7"><use href="#wL" x="396"/></g><g id="k52-8"><use href="#wL" x="448"/></g><g id="k52-9"><use href="#wL" x="500"/></g><g id="k52-10"><use href="#wL" x="552"/></g><g id="k52-11"><use href="#wL" x="604"/></g></g>
</g>
<g id="numbers" class="num">
<g text-anchor="end">
<text x="21" y="66.2">1</text><text x="21" y="118.2">2</text><text x="21" y="170.2">3</text><text x="21" y="222.2">4</text><text x="21" y="274.2">5</text><text x="21" y="326.2">6</text><text x="21" y="378.2">7</text><text x="21" y="430.2">8</text><text x="21" y="482.2">9</text><text x="21" y="534.2">10</text><text x="21" y="586.2">11</text><text x="21" y="638.2">12</text><text x="21" y="690.2">13</text><text x="21" y="742.2">14</text><text x="21" y="794.2">15</text><text x="21" y="846.2">16</text><text x="21" y="898.2">17</text><text x="21" y="950.2">18</text><text x="21" y="1002.2">19</text><text x="21" y="1054.2">20</text><text x="21" y="1106.2">21</text><text x="21" y="1158.2">22</text><text x="21" y="1210.2">23</text><text x="21" y="1262.2">24</text><text x="21" y="1314.2">25</text><text x="21" y="1366.2">26</text><text x="21" y="1418.2">27</text><text x="21" y="1470.2">28</text><text x="21" y="1522.2">29</text><text x="21" y="1574.2">30</text><text x="21" y="1626.2">31</text><text x="21" y="1678.2">32</text><text x="21" y="1730.2">33</text><text x="21" y="1782.2">34</text><text x="21" y="1834.2">35</text><text x="21" y="1886.2">36</text><text x="21" y="1938.2">37</text><text x="21" y="1990.2">38</text><text x="21" y="2042.2">39</text><text x="21" y="2094.2">40</text><text x="21" y="2146.2">41</text><text x="21" y="2198.2">42</text><text x="21" y="2250.2">43</text><text x="21" y="2302.2">44</text><text x="21" y="2354.2">45</text><text x="21" y="2406.2">46</text><text x="21" y="2458.2">47</text><text x="21" y="2510.2">48</text><text x="21" y="2562.2">49</text><text x="21" y="2614.2">50</text><text x="21" y="2666.2">51</text><text x="21" y="2718.2">52</text>
</g>
<g text-anchor="start">
<text x="667" y="66.2">1</text><text x="667" y="118.2">2</text><text x="667" y="170.2">3</text><text x="667" y="222.2">4</text><text x="667" y="274.2">5</text><text x="667" y="326.2">6</text><text x="667" y="378.2">7</text><text x="667" y="430.2">8</text><text x="667" y="482.2">9</text><text x="667" y="534.2">10</text><text x="667" y="586.2">11</text><text x="667" y="638.2">12</text><text x="667" y="690.2">13</text><text x="667" y="742.2">14</text><text x="667" y="794.2">15</text><text x="667" y="846.2">16</text><text x="667" y="898.2">17</text><text x="667" y="950.2">18</text><text x="667" y="1002.2">19</text><text x="667" y="1054.2">20</text><text x="667" y="1106.2">21</text><text x="667" y="1158.2">22</text><text x="667" y="1210.2">23</text><text x="667" y="1262.2">24</text><text x="667" y="1314.2">25</text><text x="667" y="1366.2">26</text><text x="667" y="1418.2">27</text><text x="667" y="1470.2">28</text><text x="667" y="1522.2">29</text><text x="667" y="1574.2">30</text><text x="667" y="1626.2">31</text><text x="667" y="1678.2">32</text><text x="667" y="1730.2">33</text><text x="667" y="1782.2">34</text><text x="667" y="1834.2">35</text><text x="667" y="1886.2">36</text><text x="667" y="1938.2">37</text><text x="667" y="1990.2">38</text><text x="667" y="2042.2">39</text><text x="667" y="2094.2">40</text><text x="667" y="2146.2">41</text><text x="667" y="2198.2">42</text><text x="667" y="2250.2">43</text><text x="667" y="2302.2">44</text><text x="667" y="2354.2">45</text><text x="667" y="2406.2">46</text><text x="667" y="2458.2">47</text><text x="667" y="2510.2">48</text><text x="667" y="2562.2">49</text><text x="667" y="2614.2">50</text><text x="667" y="2666.2">51</text><text x="667" y="2718.2">52</text>
</g>
</g>
<text class="wm" x="345" y="1393" textLength="154" lengthAdjust="spacingAndGlyphs">BRACELETBOOK.COM</text>
</svg>
